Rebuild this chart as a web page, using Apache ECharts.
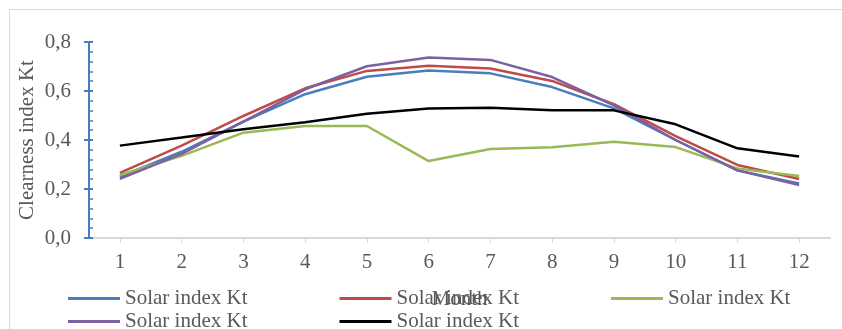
<!DOCTYPE html>
<html>
<head>
<meta charset="utf-8">
<script src="https://cdn.jsdelivr.net/npm/echarts@6/dist/echarts.min.js"></script>
<style>
  html, body { margin: 0; padding: 0; background: #fff; }
  #chart { width: 842px; height: 329px; }
</style>
</head>
<body>
<div id="chart"></div>
<script>
// Monthly clearness index Kt, five stations
const months = ['1', '2', '3', '4', '5', '6', '7', '8', '9', '10', '11', '12'];
const seriesLabel = 'Solar index Kt';
const ktBlue   = [0.250, 0.352, 0.475, 0.587, 0.658, 0.684, 0.672, 0.616, 0.529, 0.400, 0.276, 0.223];
const ktRed    = [0.266, 0.377, 0.498, 0.611, 0.682, 0.703, 0.692, 0.641, 0.546, 0.416, 0.298, 0.241];
const ktGreen  = [0.257, 0.335, 0.430, 0.457, 0.457, 0.314, 0.363, 0.370, 0.393, 0.371, 0.284, 0.253];
const ktPurple = [0.241, 0.343, 0.475, 0.607, 0.701, 0.737, 0.727, 0.657, 0.541, 0.400, 0.276, 0.216];
const ktBlack  = [0.377, 0.410, 0.444, 0.472, 0.507, 0.529, 0.532, 0.521, 0.521, 0.464, 0.366, 0.333];
const yTicks = { min: 0, max: 0.8, step: 0.2 };

const FONT = '"Liberation Serif", "Times New Roman", serif';
const TEXT = '#595959';

const lines = [
  { id: 'k1', data: ktBlue,   color: '#4a7ebb' },
  { id: 'k2', data: ktRed,    color: '#be4b48' },
  { id: 'k3', data: ktGreen,  color: '#98b954' },
  { id: 'k4', data: ktPurple, color: '#7d60a0' },
  { id: 'k5', data: ktBlack,  color: '#000000' }
];

const legendBase = {
  left: 63,
  icon: 'rect',
  itemWidth: 52,
  itemHeight: 3,
  itemGap: 92,
  orient: 'horizontal',
  formatter: () => seriesLabel,
  textStyle: { fontFamily: FONT, fontSize: 21, color: TEXT }
};

const chart = echarts.init(document.getElementById('chart'), null, { renderer: 'canvas' });
chart.setOption({
  animation: false,
  backgroundColor: '#ffffff',
  graphic: [{
    type: 'rect',
    shape: { x: 9.5, y: 9.5, width: 900, height: 400 },
    style: { fill: 'none', stroke: '#d9d9d9', lineWidth: 1 },
    silent: true
  }],
  grid: { left: 89, right: 12, top: 42, bottom: 91 },
  legend: [
    Object.assign({}, legendBase, { top: 283, data: ['k1', 'k2', 'k3'] }),
    Object.assign({}, legendBase, { top: 306, data: ['k4', 'k5'] })
  ],
  xAxis: {
    type: 'category',
    data: months,
    boundaryGap: true,
    name: 'Month',
    nameLocation: 'middle',
    nameGap: 51,
    nameMoveOverlap: false,
    nameTextStyle: { fontFamily: FONT, fontSize: 21, color: TEXT },
    axisLine: { lineStyle: { color: '#d9d9d9', width: 2 } },
    axisTick: { show: true, alignWithLabel: true, length: 5, lineStyle: { color: '#d9d9d9' } },
    axisLabel: { fontFamily: FONT, fontSize: 21, color: TEXT, margin: 14 },
    splitLine: { show: false }
  },
  yAxis: [{
    type: 'value',
    min: yTicks.min,
    max: yTicks.max,
    interval: yTicks.step,
    name: 'Clearness index Kt',
    nameLocation: 'middle',
    nameGap: 51,
    nameMoveOverlap: false,
    nameTextStyle: { fontFamily: FONT, fontSize: 21, color: TEXT },
    axisLine: { show: true, lineStyle: { color: '#4a7ebb', width: 2 } },
    axisTick: { show: true, inside: false, length: 5, lineStyle: { color: '#4a7ebb', width: 2 } },
    axisLabel: {
      fontFamily: FONT, fontSize: 21, color: TEXT, margin: 18,
      formatter: v => v.toFixed(1).replace('.', ',')
    },
    splitLine: { show: false }
  }, {
    // inner tick marks (major + minor) on the same scale
    type: 'value',
    min: yTicks.min,
    max: yTicks.max,
    interval: yTicks.step,
    position: 'left',
    axisLine: { show: true, lineStyle: { color: '#4a7ebb', width: 2 } },
    axisTick: { show: true, inside: true, length: 4, lineStyle: { color: '#4a7ebb', width: 2 } },
    minorTick: { show: true, splitNumber: 5, length: 4, lineStyle: { color: '#4a7ebb', width: 1.5 } },
    axisLabel: { show: false },
    splitLine: { show: false }
  }],
  series: lines.map(s => ({
    type: 'line',
    name: s.id,
    data: s.data,
    yAxisIndex: 0,
    symbol: 'none',
    showSymbol: false,
    lineStyle: { color: s.color, width: 2.5 },
    itemStyle: { color: s.color },
    emphasis: { disabled: true }
  }))
});
</script>
</body>
</html>
